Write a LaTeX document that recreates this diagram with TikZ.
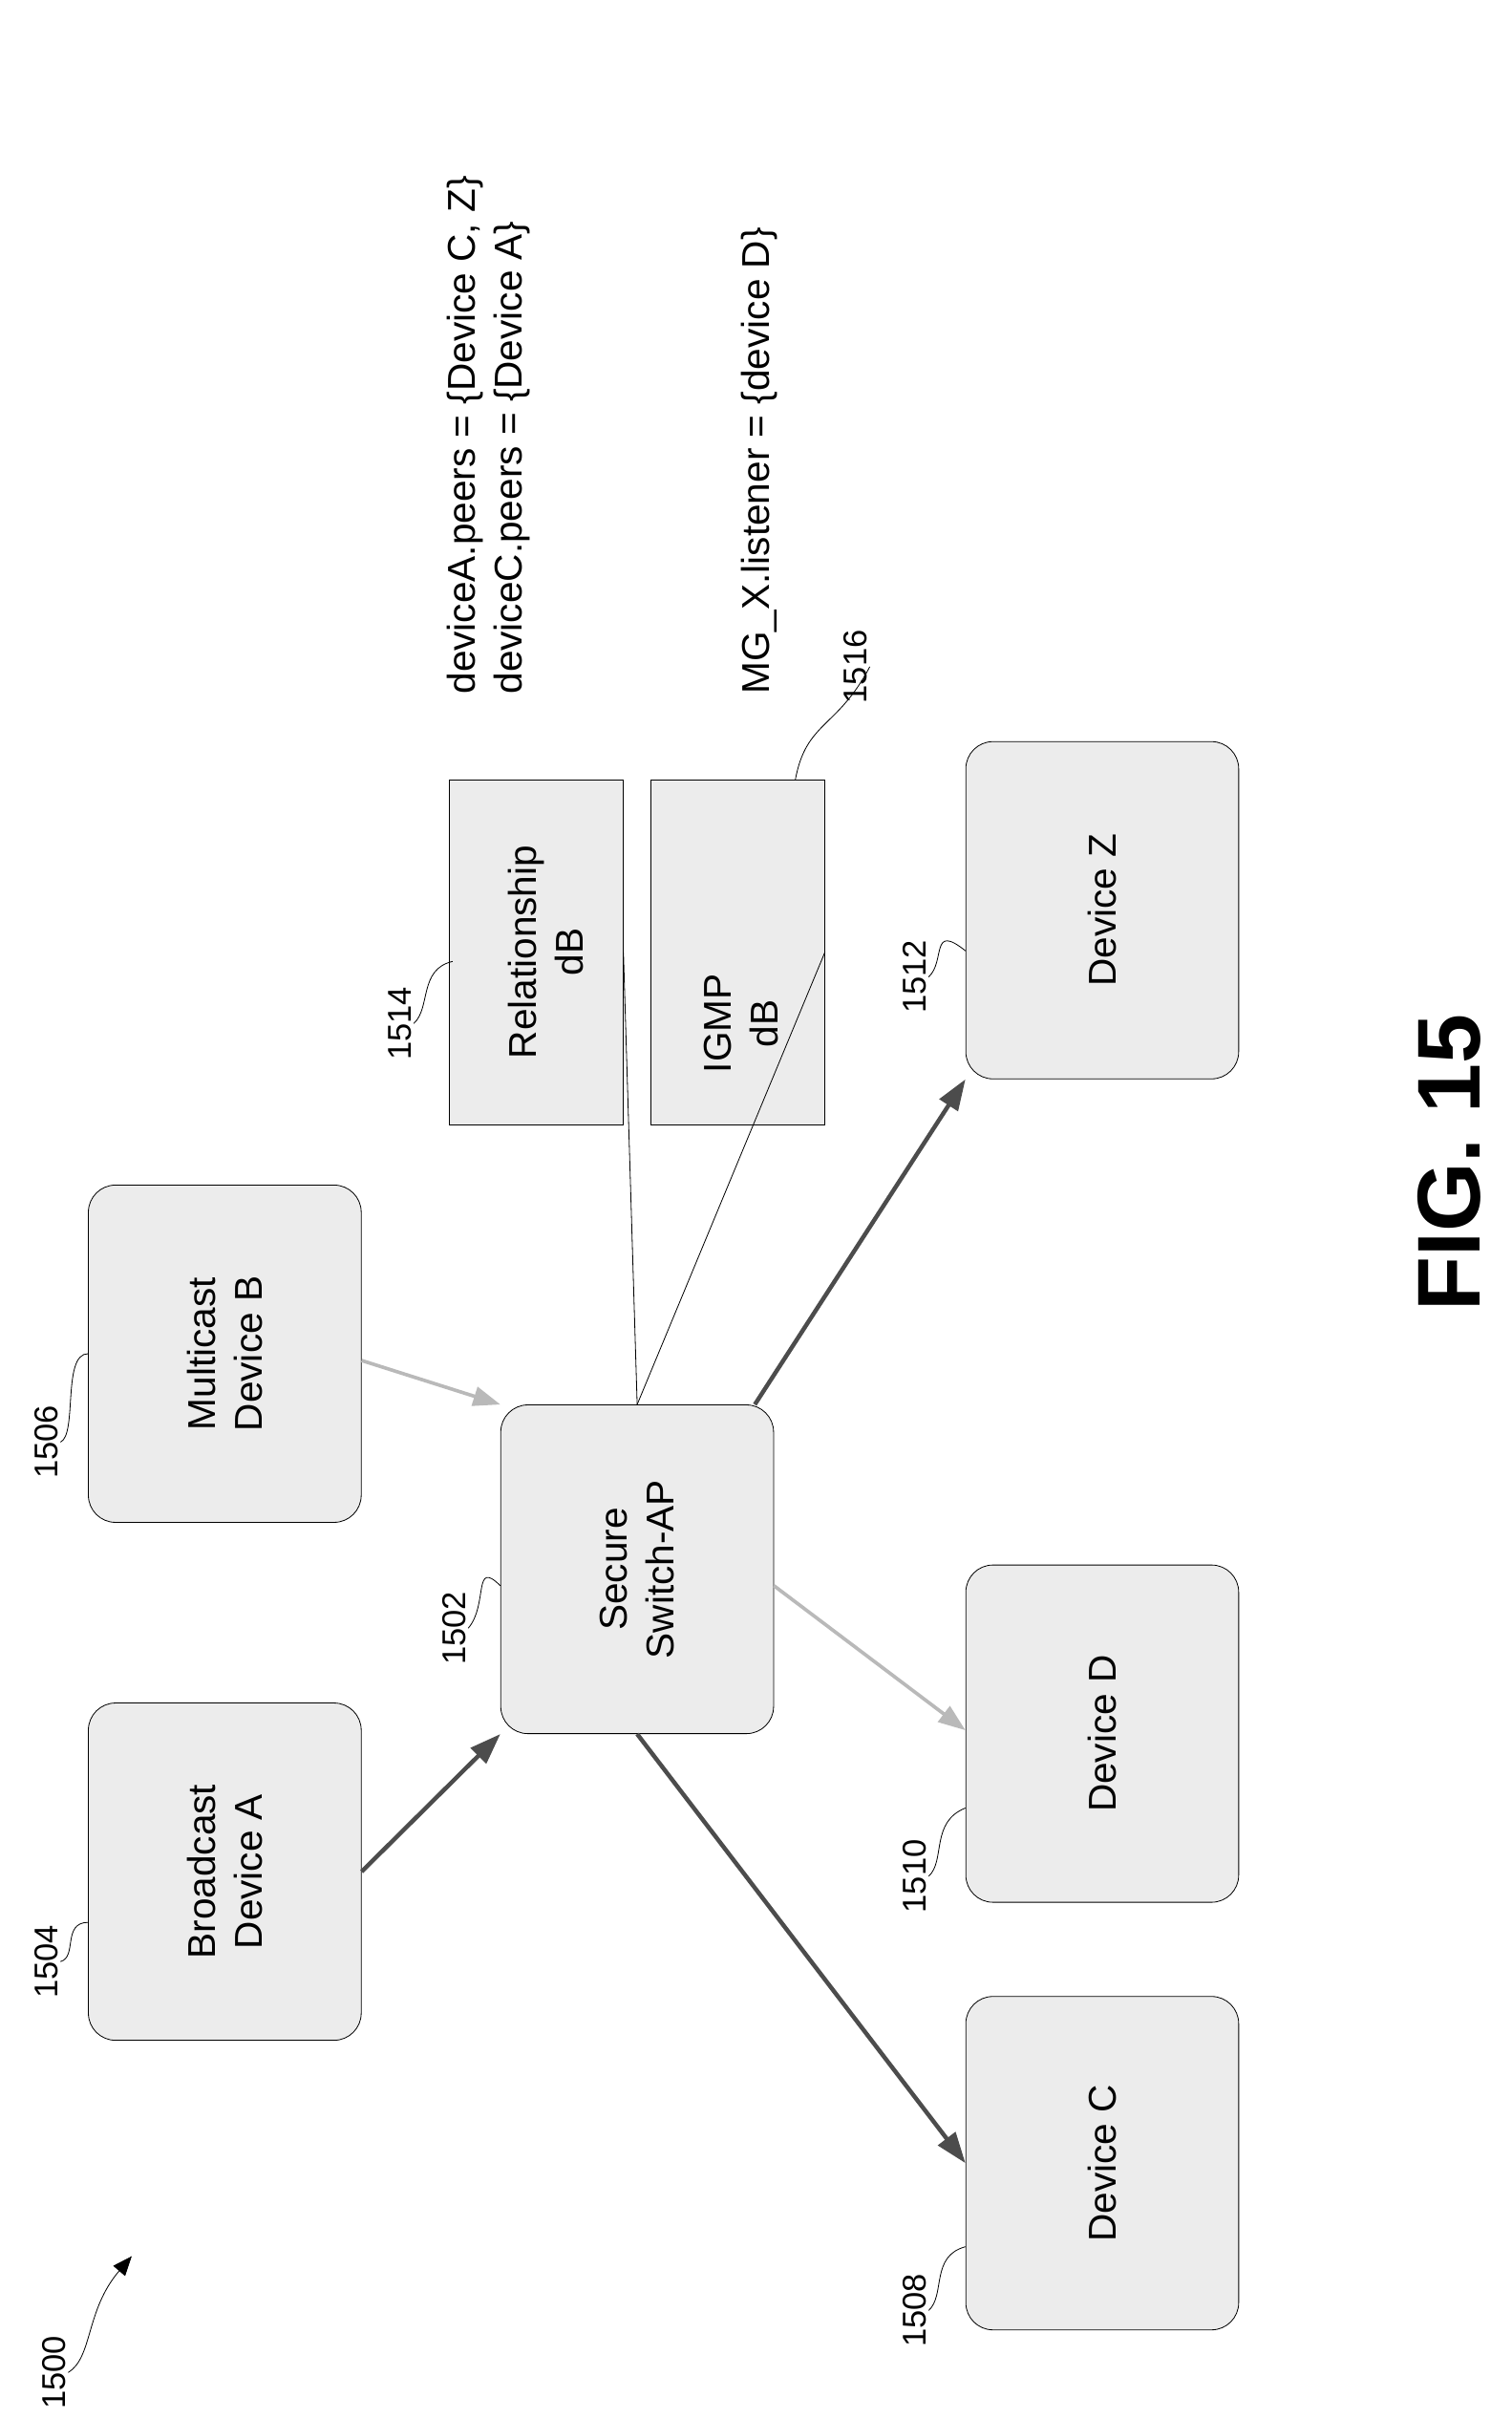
\documentclass[tikz,border=0pt]{standalone}
\usepackage{fontspec}
\setmainfont{Liberation Sans}
\usetikzlibrary{arrows.meta,positioning,calc,shapes.geometric}

\tikzset{
  dev/.style={draw, rounded corners=14pt, fill=gray!15, minimum width=140.8pt, minimum height=174pt, inner sep=0pt},
  db/.style={draw, cylinder, shape border rotate=180, aspect=0.22, fill=gray!15, minimum width=178pt, minimum height=89.6pt, inner sep=0pt},
  rot/.style={rotate=90, align=center, font=\fontsize{20}{24}\selectfont},
  num/.style={rotate=90, font=\fontsize{17}{20}\selectfont, inner sep=1pt},
  dark/.style={draw=gray!60!black, line width=2.2pt, -{Triangle[length=16pt,width=11pt]}},
  light/.style={draw=gray!55, line width=1.8pt, -{Triangle[length=14pt,width=10pt]}},
}

\begin{document}
\begin{tikzpicture}[x=0.8pt, y=-0.8pt, >=latex]
  \useasboundingbox (0,0) rectangle (975,1560);
  % devices
  \node[dev] (bcA) at (145,1207) {};
  \node[rot] at (bcA) {Broadcast\\Device A};
  \node[dev] (mcB) at (145,873) {};
  \node[rot] at (mcB) {Multicast\\Device B};
  \node[dev, minimum height=169.6pt] (sw) at (411,1012) {};
  \node[rot] at (sw) {Secure\\Switch-AP};
  \node[dev, minimum height=172pt] (devC) at (711,1395) {};
  \node[rot] at (devC) {Device C};
  \node[dev] (devD) at (711,1118) {};
  \node[rot] at (devD) {Device D};
  \node[dev] (devZ) at (711,587) {};
  \node[rot] at (devZ) {Device Z};
  % databases
  \node[db] (rel) at (346,614) {};
  \node[rot, anchor=center] at (352,614) {Relationship\\dB};
  \node[db] (igmp) at (476,614) {};
  \node[rot] at (478,660) {IGMP\\dB};
  \node[rot, align=left, anchor=west] (peers) at (315,452) {deviceA.peers = \{Device C, Z\}\\deviceC.peers = \{Device A\}};
  \node[rot, anchor=west] (mgx) at (490,452) {MG\_X.listener = \{device D\}};
  % links
  \draw (sw.north) -- (rel.east);
  \draw (sw.north) -- (igmp.east);
  \draw[dark] (bcA.east) -- (sw.south west);
  \draw[light] ($(mcB.north east)!0.52!(mcB.south east)$) -- (sw.north west);
  \draw[light] ($(sw.north east)!0.55!(sw.south east)$) -- ($(devD.north west)!0.49!(devD.south west)$);
  \draw[dark] ($(sw.south west)!0.5!(sw.south east)$) -- ($(devC.north west)!0.5!(devC.south west)$);
  \draw[dark] ($(sw.north west)!0.93!(sw.north east)$) -- (devZ.south west);
  % reference numerals
  \node[num] (n1504) at (30,1265) {1504};
  \draw (n1504.south) .. controls (50,1262) and (40,1240) .. ($(bcA.north west)!0.65!(bcA.south west)$);
  \node[num] (n1506) at (30,930) {1506};
  \draw (n1506.south) .. controls (50,925) and (40,873) .. ($(mcB.north west)!0.5!(mcB.south west)$);
  \node[num] (n1502) at (293,1050) {1502};
  \draw (n1502.south) .. controls (315,1035) and (305,1005) .. ($(sw.north west)!0.55!(sw.south west)$);
  \node[num] (n1508) at (590,1490) {1508};
  \draw (n1508.south) .. controls (610,1480) and (600,1455) .. ($(devC.north west)!0.75!(devC.south west)$);
  \node[num] (n1510) at (590,1210) {1510};
  \draw (n1510.south) .. controls (610,1200) and (600,1175) .. ($(devD.north west)!0.72!(devD.south west)$);
  \node[num] (n1512) at (590,630) {1512};
  \draw (n1512.south) .. controls (610,620) and (600,595) .. ($(devZ.north west)!0.62!(devZ.south west)$);
  \node[num] (n1514) at (258,660) {1514};
  \draw (n1514.south) .. controls (278,650) and (270,625) .. (292,620);
  \node[num] (n1516) at (552,430) {1516};
  \draw (n1516.south) .. controls (540,470) and (520,465) .. (513,503);
  \node[num] (n1500) at (35,1530) {1500};
  \coordinate (fig) at (85,1455);
  \draw[-{Triangle[length=10pt,width=8pt]}] (n1500.south) .. controls (60,1520) and (55,1490) .. (fig);
  \node[rotate=90, font=\fontsize{46}{50}\selectfont\bfseries] (title) at (935,750) {FIG. 15};
\end{tikzpicture}
\end{document}
